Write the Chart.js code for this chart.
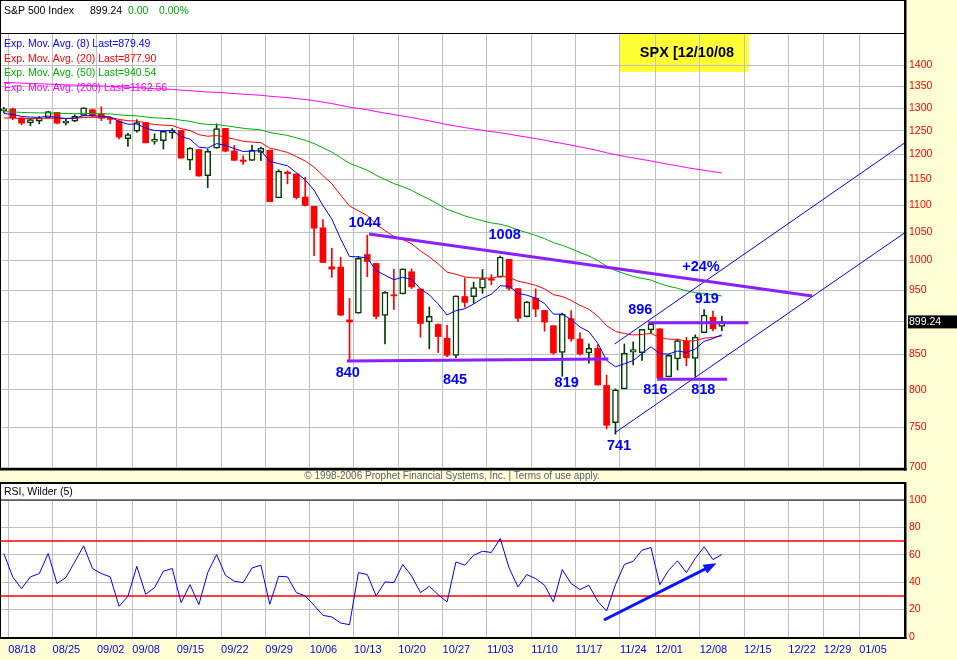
<!DOCTYPE html>
<html>
<head>
<meta charset="UTF-8">
<title>SPX 12/10/08</title>
<style>
    body {
        margin: 0;
        background-color: #ffffd6;
    }
    #wrap {
        position: relative;
        width: 957px;
        height: 660px;
        overflow: hidden;
    }
    #priceChart {
        position: absolute;
        left: 0;
        top: 0;
    }
    #rsiChart {
        position: absolute;
        left: 0;
        top: 480px;
    }
</style>
<script src="https://cdn.jsdelivr.net/npm/chart.js"></script>
</head>
<body>
<div id="wrap">
    <canvas id="priceChart" width="957" height="482"></canvas>
    <canvas id="rsiChart" width="957" height="180"></canvas>
</div>
<script>
    // trading days shown (index = position on the x axis)
    const days = ['08/15', '08/18', '08/19', '08/20', '08/21', '08/22', '08/25', '08/26', '08/27', '08/28',
        '08/29', '09/02', '09/03', '09/04', '09/05', '09/08', '09/09', '09/10', '09/11', '09/12',
        '09/15', '09/16', '09/17', '09/18', '09/19', '09/22', '09/23', '09/24', '09/25', '09/26',
        '09/29', '09/30', '10/01', '10/02', '10/03', '10/06', '10/07', '10/08', '10/09', '10/10',
        '10/13', '10/14', '10/15', '10/16', '10/17', '10/20', '10/21', '10/22', '10/23', '10/24',
        '10/27', '10/28', '10/29', '10/30', '10/31', '11/03', '11/04', '11/05', '11/06', '11/07',
        '11/10', '11/11', '11/12', '11/13', '11/14', '11/17', '11/18', '11/19', '11/20', '11/21',
        '11/24', '11/25', '11/26', '11/28', '12/01', '12/02', '12/03', '12/04', '12/05', '12/08',
        '12/09', '12/10'];

    const opens = [1293.9, 1298.1, 1278.3, 1267.3, 1271.1, 1277.6, 1290.5, 1267.0, 1271.3, 1283.8,
        1296.5, 1287.8, 1276.6, 1271.8, 1233.2, 1249.5, 1268.0, 1227.5, 1229.0, 1245.9,
        1250.9, 1188.3, 1210.3, 1157.1, 1213.1, 1255.4, 1207.6, 1188.8, 1187.9, 1204.5,
        1209.1, 1113.8, 1164.2, 1160.6, 1115.2, 1097.6, 1057.6, 988.9, 988.4, 902.3,
        912.8, 1010.0, 994.6, 909.5, 942.3, 943.5, 980.4, 951.7, 899.1, 895.2,
        874.3, 848.9, 939.5, 939.4, 953.1, 968.7, 971.3, 1001.8, 952.4, 907.4,
        936.8, 917.2, 893.4, 853.1, 904.4, 873.2, 852.3, 859.0, 805.9, 755.8,
        801.2, 853.4, 852.9, 886.9, 888.6, 817.9, 843.6, 869.8, 844.4, 882.7,
        906.5, 892.2];
    const highs = [1302.0, 1300.2, 1278.3, 1276.0, 1281.4, 1293.1, 1290.5, 1275.7, 1285.1, 1300.7,
        1297.6, 1303.0, 1280.6, 1271.8, 1244.9, 1274.4, 1268.7, 1243.9, 1250.0, 1255.1,
        1250.9, 1214.8, 1210.3, 1211.1, 1265.3, 1255.4, 1219.2, 1197.4, 1220.0, 1215.8,
        1209.1, 1169.0, 1167.0, 1160.6, 1153.8, 1097.6, 1072.9, 1021.1, 1005.3, 936.4,
        1006.9, 1044.3, 994.6, 947.7, 984.6, 985.4, 985.4, 951.7, 922.8, 896.3,
        893.8, 940.5, 970.0, 963.2, 984.4, 975.6, 1007.5, 1001.8, 952.4, 931.5,
        952.0, 917.2, 893.4, 913.0, 916.9, 882.3, 865.9, 864.6, 820.5, 801.2,
        865.6, 868.9, 887.7, 896.3, 888.6, 850.5, 873.1, 875.6, 879.4, 918.6,
        916.3, 908.3];
    const lows = [1290.0, 1274.5, 1263.2, 1261.2, 1265.2, 1277.6, 1264.9, 1263.2, 1270.0, 1283.8,
        1280.7, 1272.2, 1265.6, 1232.8, 1217.2, 1247.1, 1224.5, 1221.6, 1211.5, 1233.8,
        1192.7, 1169.3, 1155.9, 1133.5, 1213.1, 1205.6, 1187.1, 1179.8, 1187.9, 1187.5,
        1106.4, 1113.8, 1140.8, 1111.4, 1098.1, 1008.0, 996.2, 971.0, 909.2, 839.8,
        912.8, 972.1, 904.0, 865.8, 918.7, 943.5, 952.5, 875.8, 858.4, 852.9,
        846.8, 845.3, 922.3, 928.5, 944.6, 958.8, 971.3, 949.9, 899.7, 906.9,
        907.5, 884.9, 850.5, 818.7, 869.9, 849.0, 837.5, 806.2, 747.8, 741.0,
        801.2, 835.0, 841.4, 881.2, 815.7, 817.9, 827.6, 833.6, 818.4, 882.7,
        885.4, 885.5];
    const closes = [1298.2, 1278.6, 1266.7, 1274.5, 1277.7, 1292.2, 1266.8, 1271.5, 1281.7, 1300.7,
        1282.8, 1277.6, 1275.0, 1236.8, 1242.3, 1267.8, 1224.5, 1232.0, 1249.1, 1251.7,
        1192.7, 1213.6, 1156.4, 1206.5, 1255.1, 1207.1, 1188.2, 1185.9, 1209.2, 1213.3,
        1106.4, 1166.4, 1161.1, 1114.3, 1099.2, 1056.9, 996.2, 984.9, 909.9, 899.2,
        1003.4, 998.0, 907.8, 946.4, 940.6, 985.4, 955.1, 896.8, 908.1, 876.8,
        848.9, 940.5, 930.1, 954.1, 968.8, 966.3, 1005.8, 952.8, 904.9, 931.0,
        919.2, 899.0, 852.3, 911.3, 873.3, 850.8, 859.1, 806.6, 752.4, 800.0,
        851.8, 857.4, 887.7, 896.2, 816.2, 848.8, 870.7, 845.2, 876.1, 909.7,
        888.7, 899.24];

    const ema8 = [1288.0, 1285.9, 1281.6, 1280.1, 1279.5, 1282.3, 1278.9, 1277.2, 1278.2, 1283.2,
        1283.1, 1281.9, 1280.4, 1270.7, 1264.4, 1265.1, 1256.1, 1250.7, 1250.4, 1250.7,
        1237.8, 1232.4, 1215.5, 1213.5, 1222.8, 1219.3, 1212.4, 1206.5, 1207.1, 1208.5,
        1185.8, 1181.5, 1177.0, 1163.1, 1148.9, 1128.4, 1099.0, 1073.7, 1037.3, 1006.6,
        1005.9, 1004.1, 982.7, 974.6, 967.1, 971.2, 967.6, 951.9, 942.1, 927.6,
        910.1, 916.9, 919.8, 927.4, 936.6, 943.2, 957.1, 956.2, 944.8, 941.7,
        936.7, 928.3, 911.4, 911.4, 902.9, 891.3, 884.2, 866.9, 841.5, 832.3,
        836.6, 841.2, 851.5, 861.5, 851.4, 850.8, 855.3, 853.0, 858.2, 869.6,
        873.8, 879.5];
    const ema20 = [1278.0, 1278.1, 1277.0, 1276.8, 1276.9, 1278.3, 1277.2, 1276.7, 1277.2, 1279.4,
        1279.7, 1279.5, 1279.1, 1275.1, 1272.0, 1271.6, 1267.1, 1263.8, 1262.4, 1261.4,
        1254.8, 1250.9, 1241.9, 1238.5, 1240.1, 1237.0, 1232.3, 1227.9, 1226.1, 1224.9,
        1213.6, 1209.1, 1204.5, 1195.9, 1186.7, 1174.4, 1157.4, 1141.0, 1119.0, 1098.0,
        1089.0, 1080.3, 1063.9, 1052.7, 1042.0, 1036.6, 1028.9, 1016.3, 1006.0, 993.7,
        979.9, 976.2, 971.8, 970.1, 970.0, 969.6, 973.0, 971.1, 964.8, 961.6,
        957.6, 952.0, 942.5, 939.5, 933.2, 925.3, 919.0, 908.3, 893.5, 884.6,
        881.5, 879.2, 880.0, 881.6, 875.4, 872.8, 872.6, 870.0, 870.6, 874.3,
        875.7, 877.9];
    const ema50 = [1292.0, 1291.5, 1290.5, 1289.9, 1289.4, 1289.5, 1288.6, 1288.0, 1287.7, 1288.2,
        1288.0, 1287.6, 1287.1, 1285.1, 1283.4, 1282.8, 1280.5, 1278.6, 1277.5, 1276.5,
        1273.2, 1270.8, 1266.3, 1264.0, 1263.6, 1261.4, 1258.5, 1255.7, 1253.8, 1252.3,
        1246.5, 1243.4, 1240.2, 1235.2, 1229.9, 1223.1, 1214.2, 1205.2, 1193.6, 1182.1,
        1175.1, 1168.1, 1157.9, 1149.6, 1141.4, 1135.3, 1128.2, 1119.1, 1110.9, 1101.7,
        1091.8, 1085.8, 1079.7, 1074.8, 1070.6, 1066.6, 1064.2, 1059.8, 1053.7, 1048.9,
        1043.8, 1038.2, 1030.9, 1026.2, 1020.2, 1013.6, 1007.5, 999.6, 989.9, 982.5,
        977.4, 972.7, 969.3, 966.5, 960.6, 956.2, 952.9, 948.6, 945.8, 944.4,
        942.2, 940.5];
    const ema200 = [1359.0, 1358.2, 1357.3, 1356.4, 1355.7, 1355.0, 1354.1, 1353.3, 1352.6, 1352.0,
        1351.3, 1350.6, 1349.8, 1348.7, 1347.6, 1346.8, 1345.6, 1344.5, 1343.5, 1342.6,
        1341.1, 1339.8, 1338.0, 1336.7, 1335.8, 1334.6, 1333.1, 1331.6, 1330.4, 1329.2,
        1327.0, 1325.4, 1323.7, 1321.6, 1319.4, 1316.8, 1313.6, 1310.3, 1306.3, 1302.3,
        1299.3, 1296.3, 1292.4, 1289.0, 1285.5, 1282.5, 1279.2, 1275.4, 1271.7, 1267.8,
        1263.6, 1260.4, 1257.1, 1254.1, 1251.2, 1248.4, 1246.0, 1243.0, 1239.7, 1236.6,
        1233.4, 1230.1, 1226.3, 1223.2, 1219.7, 1216.0, 1212.4, 1208.4, 1203.8, 1199.8,
        1196.3, 1193.0, 1189.9, 1187.0, 1183.3, 1179.9, 1176.8, 1173.5, 1170.6, 1168.0,
        1165.2, 1162.5];

    const rsi5 = [60.9, 43.9, 35.3, 43.9, 46.3, 60.9, 39.0, 43.4, 54.8, 66.5,
        50.0, 46.3, 43.9, 22.4, 29.7, 51.6, 31.2, 36.0, 48.0, 50.0,
        25.1, 38.2, 23.6, 47.0, 60.2, 45.0, 40.7, 39.7, 50.4, 52.4,
        23.9, 44.3, 43.9, 32.4, 30.0, 23.1, 15.8, 14.6, 10.2, 9.0,
        47.0, 45.6, 30.0, 40.2, 39.7, 52.9, 44.6, 32.4, 37.0, 30.9,
        25.6, 54.8, 52.4, 59.7, 62.6, 61.7, 71.9, 50.4, 36.5, 45.6,
        42.6, 37.8, 25.6, 49.2, 39.0, 34.6, 37.8, 26.0, 19.0, 38.2,
        52.9, 55.3, 63.4, 65.3, 38.2, 48.7, 55.6, 47.0, 57.3, 65.8,
        56.5, 60.2];

    // weekly grid: position of each week start (in trading-day units) and its label
    const weekTicks = [0.5, 5.5, 10.5, 14.5, 19.5, 24.5, 29.5, 34.5, 39.5, 44.5, 49.5,
        54.5, 59.5, 64.5, 69.5, 73.5, 78.5, 83.5, 88.5, 92.5, 96.5];
    const weekLabels = ['08/18', '08/25', '09/02', '09/08', '09/15', '09/22', '09/29', '10/06', '10/13', '10/20', '10/27',
        '11/03', '11/10', '11/17', '11/24', '12/01', '12/08', '12/15', '12/22', '12/29', '01/05'];
    const priceTicks = [700, 750, 800, 850, 900, 950, 1000, 1050, 1100, 1150, 1200, 1250, 1300, 1350, 1400];
    const rsiBands = [30, 70];

    // hand drawn marks on the price panel: [day, price, day, price]
    const purpleLines = [
        [38.7, 840.6, 68.2, 843.6],
        [41.2, 1046.3, 91.2, 940.4],
        [72.7, 898.0, 84.0, 898.0],
        [73.7, 814.5, 81.6, 814.5]
    ];
    const channelLines = [
        [68.9, 865.6, 101.6, 1224.1],
        [68.9, 742.5, 101.6, 1048.2]
    ];
    const priceNotes = [
        ['1044', 40.7, 1066], ['1008', 56.5, 1045], ['840', 38.8, 823], ['845', 50.9, 813],
        ['819', 63.5, 809], ['741', 69.4, 726], ['816', 73.5, 800], ['818', 78.9, 800],
        ['896', 71.8, 918], ['919', 79.3, 935.5], ['+24%', 78.65, 988.5]
    ];
    const rsiArrow = [67.7, 12.4, 80.4, 53.8];

    const FONT = "'Liberation Sans', Arial, sans-serif";
    const X_MIN = -0.32, X_MAX = 101.55;
    const GRID = '#c0c0c0';
    const UP_EDGE = '#003c00';

    Chart.defaults.font.family = FONT;

    const isUp = closes.map((c, i) => c >= opens[i]);

    function weekAxis(showLabels) {
        return {
            type: 'linear',
            min: X_MIN,
            max: X_MAX,
            offset: false,
            bounds: 'data',
            grid: { color: GRID, lineWidth: 1, drawTicks: false, offset: false },
            border: { display: false },
            ticks: {
                display: showLabels,
                autoSkip: false,
                maxRotation: 0,
                align: 'start',
                padding: 6,
                color: '#0000ee',
                font: { size: 11 },
                callback: (v, idx) => weekLabels[idx]
            },
            afterBuildTicks: s => { s.ticks = weekTicks.map(v => ({ value: v })); },
            afterFit: s => { s.height = showLabels ? 23 : 0; }
        };
    }

    function seg(ctx, x, y, l) {
        ctx.beginPath();
        ctx.moveTo(x.getPixelForValue(l[0]), y.getPixelForValue(l[1]));
        ctx.lineTo(x.getPixelForValue(l[2]), y.getPixelForValue(l[3]));
        ctx.stroke();
    }

    const priceDeco = {
        id: 'priceDeco',
        beforeDraw(chart) {
            const { ctx, chartArea: a } = chart;
            ctx.save();
            ctx.fillStyle = '#ffffff';
            ctx.fillRect(0, 0, a.right, a.bottom);
            // yellow tag, grid shows through it
            ctx.fillStyle = '#ffff33';
            ctx.fillRect(620, a.top, 129, 38);
            ctx.restore();
        },
        afterDatasetsDraw(chart) {
            const { ctx, chartArea: a, scales: { x, y } } = chart;
            ctx.save();
            ctx.beginPath();
            ctx.rect(a.left, a.top, a.right - a.left, a.bottom - a.top);
            ctx.clip();
            ctx.strokeStyle = '#0000ff';
            ctx.lineWidth = 1;
            channelLines.forEach(l => seg(ctx, x, y, l));
            ctx.strokeStyle = '#8c1eff';
            ctx.lineWidth = 3;
            purpleLines.forEach(l => seg(ctx, x, y, l));
            ctx.fillStyle = '#0000ff';
            ctx.font = 'bold 14.5px ' + FONT;
            ctx.textAlign = 'center';
            ctx.textBaseline = 'middle';
            priceNotes.forEach(n => ctx.fillText(n[0], x.getPixelForValue(n[1]), y.getPixelForValue(n[2])));
            ctx.restore();
        },
        afterDraw(chart) {
            const { ctx, chartArea: a, scales: { y } } = chart;
            ctx.save();
            ctx.textBaseline = 'middle';
            ctx.textAlign = 'left';

            // header
            ctx.font = '10.5px ' + FONT;
            ctx.fillStyle = '#000000';
            ctx.fillText('S&P 500 Index', 4, 11);
            ctx.fillText('899.24', 90, 11);
            ctx.fillStyle = '#00a800';
            ctx.fillText('0.00', 128, 11);
            ctx.fillText('0.00%', 159, 11);

            // legend
            const legend = [
                ['Exp. Mov. Avg. (8) Last=879.49', '#0000ff'],
                ['Exp. Mov. Avg. (20) Last=877.90', '#ff0000'],
                ['Exp. Mov. Avg. (50) Last=940.54', '#00b000'],
                ['Exp. Mov. Avg. (200) Last=1162.56', '#ff00ff']
            ];
            legend.forEach((l, k) => {
                ctx.fillStyle = l[1];
                ctx.fillText(l[0], 4, 44.5 + k * 14.4);
            });

            // tag text
            ctx.fillStyle = '#000022';
            ctx.font = 'bold 14.5px ' + FONT;
            ctx.textAlign = 'center';
            ctx.fillText('SPX [12/10/08', 687, a.top + 19);

            // frame
            ctx.fillStyle = '#000000';
            ctx.fillRect(0, 0, 1, a.bottom);
            ctx.fillRect(0, 0, a.right, 1);
            ctx.fillRect(0, a.top - 1, a.right, 1);
            ctx.fillRect(a.right, 0, 2.5, a.bottom + 2.5);
            ctx.fillRect(0, a.bottom, a.right + 2.5, 2.5);

            // last price marker
            const py = y.getPixelForValue(closes[closes.length - 1]);
            ctx.fillRect(908, py - 6.5, 49, 13);
            ctx.fillStyle = '#ffffff';
            ctx.font = '10.5px ' + FONT;
            ctx.textAlign = 'left';
            ctx.fillText('899.24', 909, py + 0.5);

            // copyright strip
            ctx.textAlign = 'center';
            ctx.font = '10px ' + FONT;
            ctx.fillStyle = '#5a5a7a';
            ctx.fillText('\u00a9 1998-2006 Prophet Financial Systems, Inc. | Terms of use apply.', a.right / 2, 476.5);
            ctx.restore();
        }
    };

    const rsiDeco = {
        id: 'rsiDeco',
        beforeDraw(chart) {
            const { ctx, chartArea: a } = chart;
            ctx.save();
            ctx.fillStyle = '#ffffff';
            ctx.fillRect(0, 3, a.right, a.bottom - 3);
            ctx.restore();
        },
        beforeDatasetsDraw(chart) {
            const { ctx, chartArea: a, scales: { y } } = chart;
            ctx.save();
            ctx.strokeStyle = '#ff0000';
            ctx.lineWidth = 1.5;
            rsiBands.forEach(v => {
                const py = y.getPixelForValue(v);
                ctx.beginPath();
                ctx.moveTo(a.left, py);
                ctx.lineTo(a.right, py);
                ctx.stroke();
            });
            ctx.restore();
        },
        afterDatasetsDraw(chart) {
            const { ctx, scales: { x, y } } = chart;
            const x0 = x.getPixelForValue(rsiArrow[0]), y0 = y.getPixelForValue(rsiArrow[1]);
            const x1 = x.getPixelForValue(rsiArrow[2]), y1 = y.getPixelForValue(rsiArrow[3]);
            const ang = Math.atan2(y1 - y0, x1 - x0);
            ctx.save();
            ctx.strokeStyle = '#0a14ff';
            ctx.fillStyle = '#0a14ff';
            ctx.lineWidth = 3;
            ctx.beginPath();
            ctx.moveTo(x0, y0);
            ctx.lineTo(x1 - 8 * Math.cos(ang), y1 - 8 * Math.sin(ang));
            ctx.stroke();
            ctx.beginPath();
            ctx.moveTo(x1, y1);
            ctx.lineTo(x1 - 13 * Math.cos(ang) + 5 * Math.sin(ang), y1 - 13 * Math.sin(ang) - 5 * Math.cos(ang));
            ctx.lineTo(x1 - 13 * Math.cos(ang) - 5 * Math.sin(ang), y1 - 13 * Math.sin(ang) + 5 * Math.cos(ang));
            ctx.closePath();
            ctx.fill();
            ctx.restore();
        },
        afterDraw(chart) {
            const { ctx, chartArea: a } = chart;
            ctx.save();
            ctx.fillStyle = '#000000';
            ctx.font = '10.5px ' + FONT;
            ctx.textBaseline = 'middle';
            ctx.fillText('RSI, Wilder (5)', 4, 12.5);
            ctx.fillRect(0, 2, a.right, 2);
            ctx.fillRect(0, 2, 1, a.bottom);
            ctx.fillRect(0, a.top - 0.5, a.right, 1);
            ctx.fillRect(a.right, 2, 2.5, a.bottom);
            ctx.fillRect(0, a.bottom, a.right + 2.5, 2);
            ctx.restore();
        }
    };

    const candleBodies = days.map((d, i) => ({ x: i, y: [opens[i], closes[i]] }));
    const candleWicks = days.map((d, i) => ({ x: i, y: [lows[i], highs[i]] }));
    const asPoints = arr => arr.map((v, i) => ({ x: i, y: v }));

    function emaLine(label, arr, color) {
        return {
            type: 'line',
            label: label,
            data: asPoints(arr),
            borderColor: color,
            borderWidth: 1,
            pointRadius: 0,
            tension: 0,
            order: 0
        };
    }

    new Chart(document.getElementById('priceChart'), {
        type: 'bar',
        data: {
            datasets: [
                emaLine('EMA 8', ema8, '#0000ff'),
                emaLine('EMA 20', ema20, '#ff0000'),
                emaLine('EMA 50', ema50, '#00b000'),
                emaLine('EMA 200', ema200, '#ff00ff'),
                {
                    label: 'body',
                    data: candleBodies,
                    grouped: false,
                    barThickness: 6,
                    minBarLength: 1,
                    borderSkipped: false,
                    backgroundColor: c => (c.dataIndex !== undefined && isUp[c.dataIndex]) ? '#ffffff' : '#ff0000',
                    borderColor: UP_EDGE,
                    borderWidth: c => (c.dataIndex !== undefined && isUp[c.dataIndex]) ? 1.5 : 0,
                    order: 2
                },
                {
                    label: 'wick',
                    data: candleWicks,
                    grouped: false,
                    barThickness: 1,
                    borderSkipped: false,
                    borderWidth: 0,
                    backgroundColor: c => (c.dataIndex !== undefined && isUp[c.dataIndex]) ? UP_EDGE : '#ff0000',
                    order: 3
                }
            ]
        },
        options: {
            responsive: false,
            animation: false,
            events: [],
            layout: { padding: { top: 34, left: 1, right: 0, bottom: 14 } },
            plugins: { legend: { display: false }, tooltip: { enabled: false } },
            scales: {
                x: weekAxis(false),
                y: {
                    type: 'logarithmic',
                    position: 'right',
                    min: 699,
                    max: 1477.3,
                    bounds: 'data',
                    grid: { color: GRID, lineWidth: 1, drawTicks: false },
                    border: { display: false },
                    ticks: {
                        autoSkip: false,
                        color: '#ff0000',
                        padding: 5,
                        font: { size: 10.5 },
                        callback: v => v === 900 ? '' : String(v)
                    },
                    afterBuildTicks: s => { s.ticks = priceTicks.map(v => ({ value: v })); },
                    afterFit: s => { s.width = 53; }
                }
            }
        },
        plugins: [priceDeco]
    });

    new Chart(document.getElementById('rsiChart'), {
        type: 'line',
        data: {
            datasets: [{
                label: 'RSI, Wilder (5)',
                data: asPoints(rsi5),
                borderColor: '#0000ff',
                borderWidth: 1,
                pointRadius: 0,
                tension: 0
            }]
        },
        options: {
            responsive: false,
            animation: false,
            events: [],
            layout: { padding: { top: 20, left: 1, right: 0, bottom: 0 } },
            plugins: { legend: { display: false }, tooltip: { enabled: false } },
            scales: {
                x: weekAxis(true),
                y: {
                    type: 'linear',
                    position: 'right',
                    min: 0,
                    max: 100,
                    grid: { color: GRID, lineWidth: 1, drawTicks: false },
                    border: { display: false },
                    ticks: { stepSize: 20, color: '#ff0000', padding: 5, font: { size: 10.5 } },
                    afterFit: s => { s.width = 53; }
                }
            }
        },
        plugins: [rsiDeco]
    });
</script>
</body>
</html>
